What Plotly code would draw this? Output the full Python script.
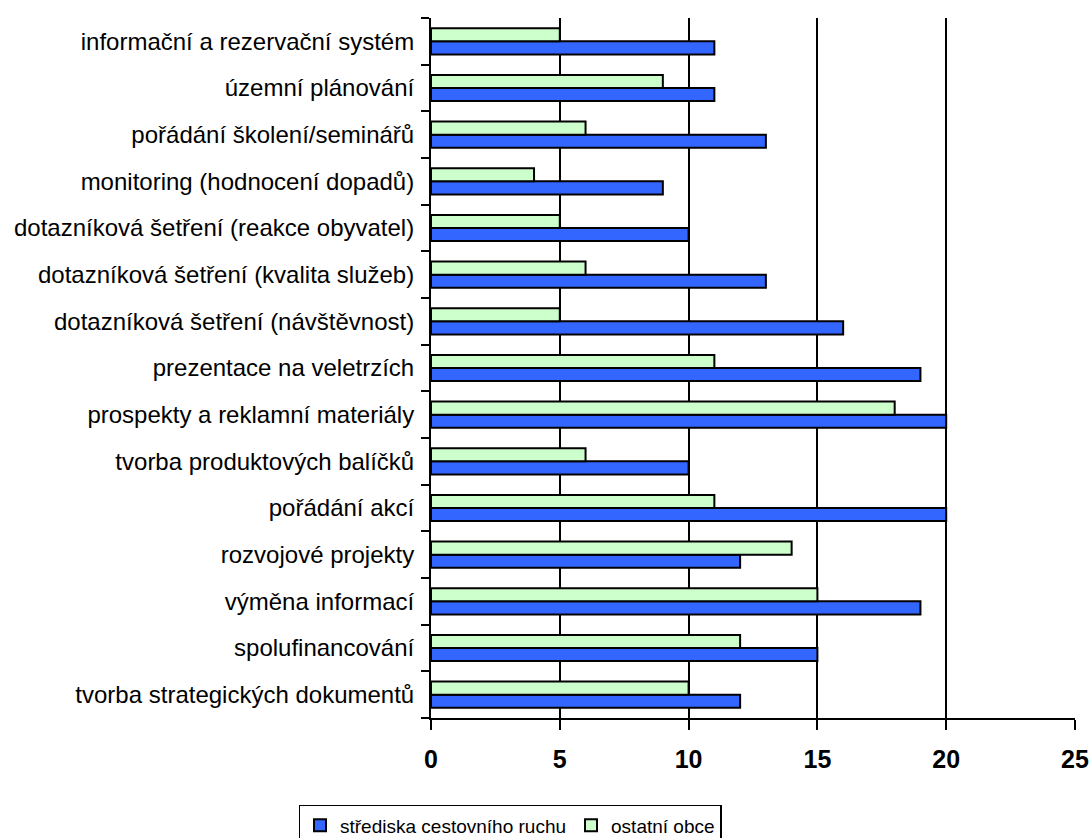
import plotly.graph_objects as go

# Categories listed bottom-to-top as they appear on the axis
categories = [
    "tvorba strategických dokumentů",
    "spolufinancování",
    "výměna informací",
    "rozvojové projekty",
    "pořádání akcí",
    "tvorba produktových balíčků",
    "prospekty a reklamní materiály",
    "prezentace na veletrzích",
    "dotazníková šetření (návštěvnost)",
    "dotazníková šetření (kvalita služeb)",
    "dotazníková šetření (reakce obyvatel)",
    "monitoring (hodnocení dopadů)",
    "pořádání školení/seminářů",
    "územní plánování",
    "informační a rezervační systém",
]

strediska = [12, 15, 19, 12, 20, 10, 20, 19, 16, 13, 10, 9, 13, 11, 11]
ostatni = [10, 12, 15, 14, 11, 6, 18, 11, 5, 6, 5, 4, 6, 9, 5]

x_ticks = [0, 5, 10, 15, 20, 25]

FONT = "Liberation Sans, Arial, sans-serif"

fig = go.Figure()
fig.add_trace(go.Bar(
    y=categories, x=strediska, orientation="h",
    name="střediska cestovního ruchu",
    marker=dict(color="#3366FF", line=dict(color="black", width=2)),
))
fig.add_trace(go.Bar(
    y=categories, x=ostatni, orientation="h",
    name="ostatní obce",
    marker=dict(color="#CCFFCC", line=dict(color="black", width=2)),
))

fig.update_layout(
    width=1090, height=838,
    margin=dict(l=431, r=15, t=18, b=120, autoexpand=False),
    paper_bgcolor="white", plot_bgcolor="white",
    barmode="group", bargap=0.44, bargroupgap=0,
    font=dict(family=FONT, color="black"),
    showlegend=True,
    legend=dict(
        orientation="h", x=0.1227, xanchor="center", y=-0.124, yanchor="top",
        bordercolor="black", borderwidth=1.5, bgcolor="white",
        font=dict(size=19, family=FONT), traceorder="normal",
        itemwidth=30,
    ),
)

fig.update_xaxes(
    range=[0, 25], tickvals=x_ticks, ticktext=[str(v) for v in x_ticks],
    showgrid=True, gridcolor="black", gridwidth=2,
    showline=True, linecolor="black", linewidth=2,
    ticks="outside", ticklen=10, tickwidth=2, tickcolor="black",
    tickfont=dict(size=25, family=FONT, weight="bold"),
    ticklabelstandoff=8,
    zeroline=False, automargin=False,
)
fig.update_yaxes(
    type="category", categoryorder="array", categoryarray=categories,
    showline=True, linecolor="black", linewidth=2,
    ticks="outside", tickson="boundaries", ticklen=8, tickwidth=2, tickcolor="black",
    tickfont=dict(size=24, family=FONT),
    ticklabelstandoff=10,
    showgrid=False, automargin=False,
)

fig.write_html("out.html")
